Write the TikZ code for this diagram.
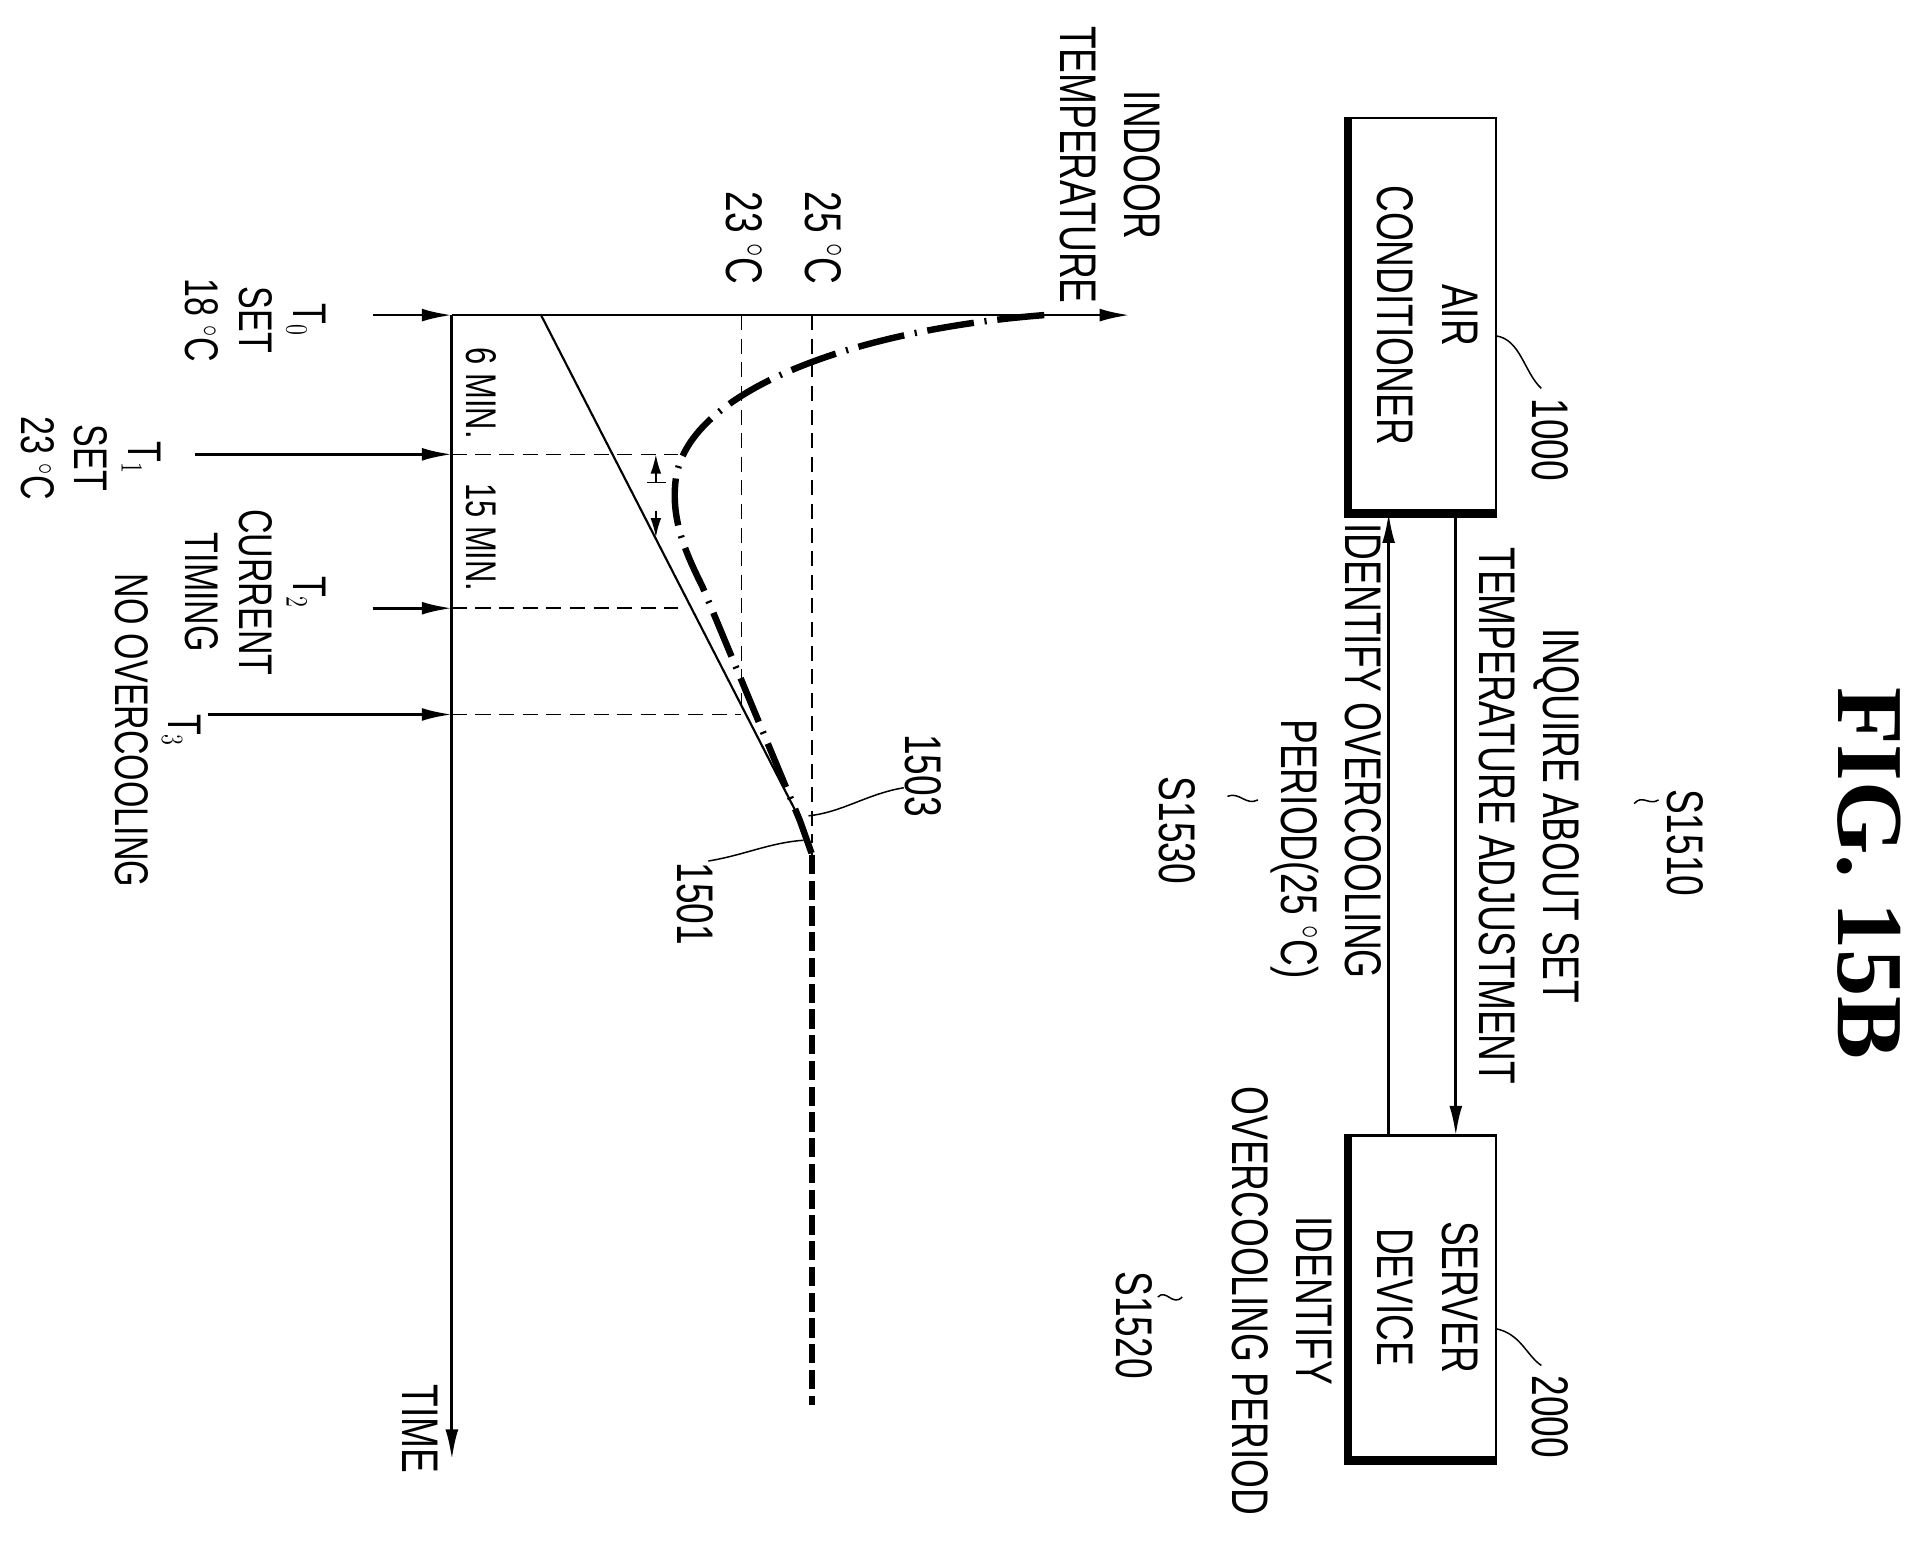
\documentclass[tikz,border=0pt]{standalone}
\usepackage{fontspec}
\setmainfont{Liberation Sans}
\newfontfamily\figfont{Liberation Serif}
\usetikzlibrary{arrows.meta}
\newcommand\nt[2][c]{\scalebox{0.72}[1]{\begin{tabular}{@{}#1@{}}#2\end{tabular}}}
\begin{document}
\begin{tikzpicture}[x=0.02cm,y=-0.02cm,
  lab/.style={rotate=-90,inner sep=0pt,font=\fontsize{24}{30}\selectfont},
  tl/.style={rotate=-90,inner sep=0pt,font=\fontsize{22}{25}\selectfont},
  ax/.style={line width=1.3pt},
  arr/.style={-{Latex[length=14pt,width=6pt]},line width=1.3pt},
  guide/.style={dashed,line width=0.7pt,dash pattern=on 7pt off 4pt},
  box/.style={draw,line width=1.3pt,minimum width=2.4cm,inner sep=0pt},
  lead/.style={line width=0.7pt}]
\useasboundingbox (0,0) rectangle (1568,1271);
% title
\node[lab,font=\figfont\bfseries\fontsize{44}{50}\selectfont] (fig) at (1530,715) {FIG. 15B};
% boxes
\node[box,minimum height=6.46cm,minimum width=2.4cm] (ac) at (1165,258) {};
\node[lab] at (ac) {\nt{AIR\\CONDITIONER}};
\draw[line width=4pt] (ac.north west) -- (ac.south west) -- (ac.south east);
\node[box,minimum height=5.3cm] (srv) at (1165,1062) {};
\node[lab] at (srv) {\nt{SERVER\\DEVICE}};
\draw[line width=4pt] (srv.north west) -- (srv.south west) -- (srv.south east);
\coordinate (a1) at (1192,420); \coordinate (b1) at (1192,930);
\coordinate (a2) at (1137,930); \coordinate (b2) at (1137,420);
\draw[arr] (a1) -- (b1);
\draw[arr] (a2) -- (b2);
\node[lab] (q) at (1248,668) {\nt{INQUIRE ABOUT SET\\TEMPERATURE ADJUSTMENT}};
\node[lab] (idp) at (1086,615) {\nt[r]{IDENTIFY OVERCOOLING\\PERIOD(25 $^{\circ}$C)}};
\node[lab] (idp2) at (1046,1065) {\nt{IDENTIFY\\OVERCOOLING PERIOD}};
\node[lab] (s1510) at (1376,690) {\nt{S1510}};
\node[lab] (s1530) at (960,680) {\nt{S1530}};
\node[lab] (s1520) at (925,1085) {\nt{S1520}};
\node[lab] (n1000) at (1265,360) {\nt{1000}};
\node[lab] (n2000) at (1265,1160) {\nt{2000}};
\draw[lead] (1225,275) .. controls (1245,278) and (1248,305) .. (1262,318);
\draw[lead] (1225,1088) .. controls (1245,1092) and (1250,1110) .. (1262,1118);
\draw[lead] (1358,655) .. controls (1350,660) and (1345,650) .. (1338,658);
\draw[lead] (1030,655) .. controls (1020,660) and (1015,648) .. (1005,652);
\draw[lead] (968,1062) .. controls (960,1070) and (955,1055) .. (948,1062);
% axes
\coordinate (o) at (370,258);
\coordinate (tend) at (370,1195);
\coordinate (yend) at (925,258);
\draw[arr] (o) -- (tend);
\draw[arr] (o) -- (yend);
\node[lab] (time) at (340,1170) {\nt{TIME}};
\node[lab] (indoor) at (905,135) {\nt{INDOOR\\TEMPERATURE}};
\node[lab] (c25) at (670,195) {\nt{25 $^{\circ}$C}};
\node[lab] (c23) at (605,195) {\nt{23 $^{\circ}$C}};
\draw[guide] (665,258) -- (665,690);
\draw[guide] (607,258) -- (607,585);
% time markers
\coordinate (t0) at (370,258); \coordinate (t1) at (370,372);
\coordinate (t2) at (370,498); \coordinate (t3) at (370,585);
\draw[arr] (305,258) -- (t0);
\draw[arr] (160,372) -- (t1);
\draw[arr] (305,498) -- (t2);
\draw[arr] (170,585) -- (t3);
\draw[guide] (t1) -- (555,372);
\draw[guide] (t2) -- (555,498);
\draw[guide] (t3) -- (607,585);
\node[tl] (l0) at (205,262) {\nt{T$_0$\\SET\\18 $^{\circ}$C}};
\node[tl] (l1) at (70,375) {\nt{T$_1$\\SET\\23 $^{\circ}$C}};
\node[tl] (l2) at (205,485) {\nt{T$_2$\\CURRENT\\TIMING}};
\node[tl] (l3) at (125,598) {\nt{T$_3$\\NO OVERCOOLING}};
\node[lab,font=\fontsize{20}{24}\selectfont] (m6) at (390,322) {\nt{6 MIN.}};
\node[lab,font=\fontsize{20}{24}\selectfont] (m15) at (390,440) {\nt{15 MIN.}};
% curves
\draw[line width=1pt] (443,258) -- (657,675) -- (665,700);
\draw[line width=3pt,dash pattern=on 22pt off 5pt on 1pt off 5pt]
  (855,258) .. controls (700,270) and (560,320) .. (553,395)
  .. controls (550,425) and (560,450) .. (575,480) -- (655,672) -- (665,700);
\draw[line width=3pt,dash pattern=on 9pt off 3pt] (665,700) -- (665,1150);
\draw[-{Latex[length=9pt,width=5pt]},line width=0.8pt] (537,395) -- (537,372);
\draw[-{Latex[length=9pt,width=5pt]},line width=0.8pt] (537,418) -- (537,440);
\draw[line width=0.8pt] (530,395) -- (545,395);
\node[lab] (n1503) at (752,635) {\nt{1503}};
\node[lab] (n1501) at (565,740) {\nt{1501}};
\draw[lead] (740,645) .. controls (710,650) and (690,665) .. (662,668);
\draw[lead] (580,705) .. controls (610,700) and (630,690) .. (658,688);
\end{tikzpicture}
\end{document}
